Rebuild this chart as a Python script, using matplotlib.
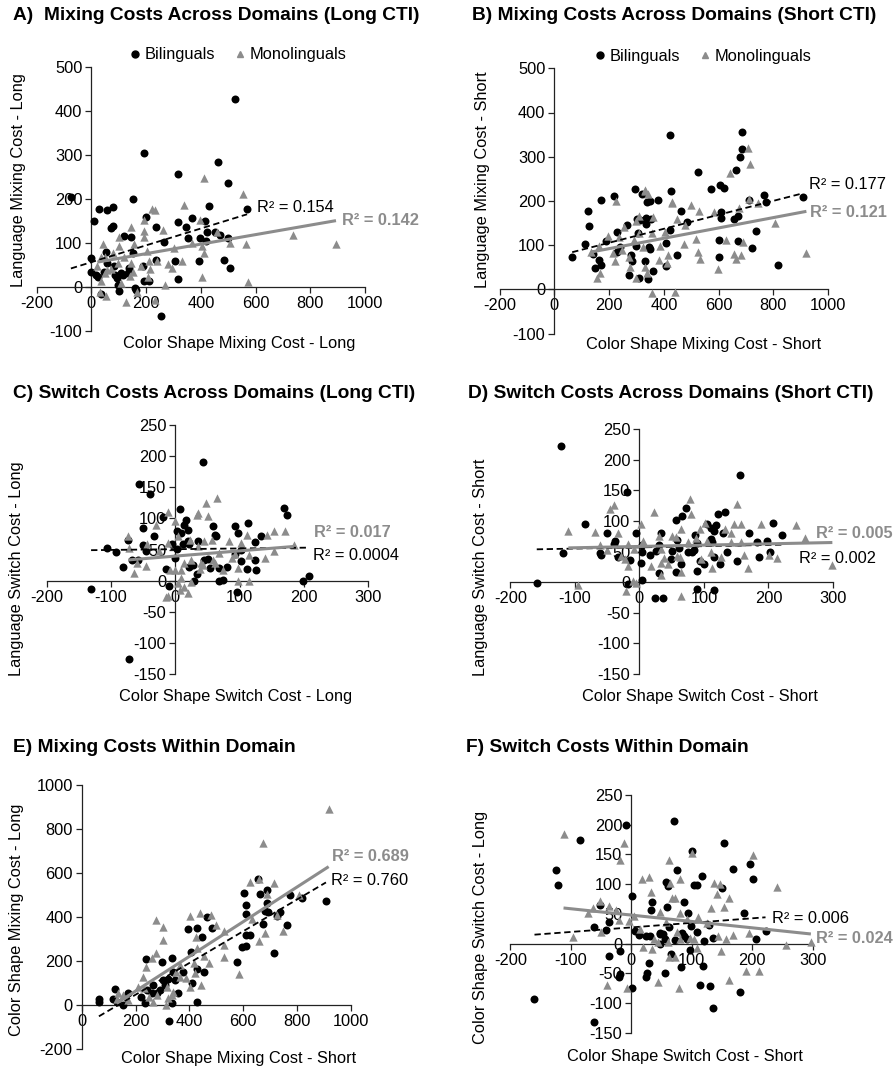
import matplotlib
matplotlib.use("Agg")
import matplotlib.pyplot as plt
from matplotlib.lines import Line2D
import numpy as np

plt.rcParams['font.family'] = ['Liberation Sans', 'DejaVu Sans']
plt.rcParams['axes.unicode_minus'] = False

# ---------------- data ----------------
a_bil_x = [524,193,463,316,501,-75,151,29,56,79,10,431,569,201,366,416,316,344,73,78,235,453,423,471,119,143,354,499,396,419,265,53,151,0,235,484,307,392,188,83,505,137,107,-2,18,24,135,316,194,209,97,101,158,35,254,86,115,46,56,95,163]
a_bil_y = [427,304,283,257,235,205,199,177,174,181,150,184,177,159,157,150,147,137,134,138,137,125,124,119,115,113,110,112,110,105,102,79,77,65,62,62,60,60,48,48,42,42,32,33,26,22,32,17,13,14,5,-10,-3,-15,-67,26,28,35,54,20,-6]
a_mono_x = [412,553,338,222,231,194,143,261,397,192,194,100,44,458,507,565,738,894,412,405,332,279,294,209,241,214,208,406,571,270,156,80,51,34,50,58,30,53,128,231,168,141,153,97,22,36,180,119,70,101,369,301,204,107,146]
a_mono_y = [247,211,187,177,175,153,135,130,152,128,113,114,98,125,99,98,119,97,77,92,60,52,42,60,60,41,23,23,12,4,97,77,68,69,32,39,-11,-21,-34,-30,-12,24,35,54,47,13,47,69,41,92,100,88,81,9,54]

b_bil_x = [65,113,123,127,169,219,149,162,169,140,188,229,266,230,241,272,283,281,295,303,311,306,300,309,320,333,335,339,351,353,379,345,330,349,359,341,423,427,423,409,409,448,464,485,524,572,607,621,609,609,603,602,658,671,664,680,686,687,671,713,723,735,765,775,818,907]
b_bil_y = [72,103,178,144,201,211,49,66,56,80,110,129,145,85,95,32,63,78,226,160,157,127,97,26,215,161,148,197,199,159,202,95,65,91,42,23,348,223,134,104,53,78,178,152,265,228,235,230,174,161,112,73,159,166,271,299,318,355,110,202,93,133,213,198,54,209]
b_mono_x = [706,716,643,225,331,342,430,499,529,585,676,710,745,807,921,689,681,658,663,626,597,526,533,517,473,476,448,431,415,413,406,387,359,308,297,331,253,196,163,168,156,214,223,235,247,278,272,298,330,340,356,442,308,290,358,382,135,324]
b_mono_y = [319,284,262,199,225,216,196,190,177,175,183,204,195,150,81,108,77,80,69,111,47,85,69,113,102,145,159,198,77,59,129,97,163,165,155,222,142,121,97,36,26,81,63,119,90,51,74,25,51,36,-8,-7,127,112,127,66,85,95]

c_bil_x = [43,-57,-39,-19,7,17,13,3,20,9,-51,-33,-73,-107,-93,-51,-46,-58,-68,-82,-131,-72,-15,-10,-1,-5,3,12,20,22,35,27,34,29,44,50,59,61,63,54,68,81,68,74,93,98,113,102,111,96,124,133,124,126,169,174,198,208,93,102,21]
c_bil_y = [190,156,139,103,115,97,90,80,82,76,85,71,66,53,46,57,47,33,33,22,-14,-126,18,-8,36,59,51,59,63,59,63,25,10,0,33,34,87,73,71,21,21,22,0,1,88,77,92,31,19,-19,62,71,33,17,117,105,-1,7,43,49,22]
c_mono_x = [64,48,-12,35,50,-30,-1,-73,-44,-72,-60,-65,-45,-26,-11,4,23,35,45,57,83,102,111,142,154,170,184,153,140,115,92,88,68,59,43,39,25,14,9,0,-9,9,4,13,20,8,-15,-11,25,97,115,98,61,74,33,40]
c_mono_y = [132,124,111,108,104,89,96,71,59,52,28,12,24,48,60,71,65,56,63,65,64,60,73,74,80,80,58,47,36,41,43,37,44,33,25,18,33,28,17,17,17,5,-4,-10,-20,-15,-26,-24,-2,0,0,21,28,17,105,28]

d_bil_x = [-122,-19,156,-85,-119,-159,-61,-60,-50,-40,-38,-33,-15,-5,-18,4,2,4,16,26,30,33,31,24,37,49,50,56,57,66,62,65,59,73,75,82,85,86,90,90,89,94,100,104,111,116,111,113,116,116,119,122,132,130,125,136,151,170,182,186,198,207,221,203,4]
d_bil_y = [222,147,176,96,47,-1,48,45,80,63,67,42,36,80,-3,3,31,49,45,51,61,80,15,-25,-25,38,51,16,101,109,56,29,69,121,50,49,52,78,64,18,-11,35,29,96,88,83,70,65,41,-13,93,111,114,80,30,50,34,80,65,42,67,97,77,49,61]
d_mono_x = [-110,-95,-69,-46,-40,-33,-61,-50,-28,-23,-18,-20,-10,-5,3,-17,-8,5,23,18,30,33,38,33,44,50,56,59,63,64,79,80,75,64,87,94,101,104,111,112,126,132,142,147,151,157,162,169,189,201,213,243,256,299,142,95,157,33,64]
d_mono_y = [84,-4,82,119,127,81,61,53,43,38,27,-14,2,-1,96,63,54,68,114,26,75,54,39,12,29,76,74,43,42,87,136,111,65,-23,73,87,97,67,50,23,41,87,80,95,128,96,45,24,96,45,39,94,73,28,65,38,66,32,16]

e_bil_x = [66,125,115,130,155,172,238,234,242,266,297,304,311,335,341,347,357,337,326,378,394,407,409,428,428,428,446,455,467,484,576,605,611,611,611,624,611,595,657,663,688,688,673,683,694,737,725,762,716,775,820,908,64,279,291,219,322,260]
e_bil_y = [14,74,29,14,0,53,208,11,68,91,194,114,91,215,152,114,56,11,-71,152,345,242,102,348,162,12,311,148,398,352,197,508,455,415,320,320,268,262,571,505,524,465,370,427,424,424,405,364,235,502,488,471,26,53,68,38,120,53]
e_mono_x = [918,674,659,626,716,690,808,634,725,747,680,658,584,529,528,529,499,480,403,425,428,456,472,442,403,421,419,388,366,304,304,276,276,260,238,229,211,233,252,266,312,322,336,341,136,155,171,130,279,316,351,366,440]
e_mono_y = [892,738,571,561,553,505,500,389,409,336,326,292,141,335,273,217,362,409,406,311,258,223,189,91,80,144,189,121,182,356,295,386,235,212,174,129,83,76,38,15,0,30,45,61,53,45,23,29,45,83,152,129,417]

f_bil_x = [71,-8,-85,-125,-121,154,101,76,117,103,109,150,168,197,202,57,61,2,35,88,59,33,93,186,-52,-37,-42,-62,7,13,25,48,52,55,48,63,73,84,88,92,99,109,121,129,135,206,222,-37,-19,30,65,83,97,118,-18,-20,26,24,56,2,114,131,180,135,-160,-61,47,31]
f_bil_y = [207,199,175,124,98,170,155,124,113,99,99,93,126,134,109,104,97,80,70,70,61,56,52,52,65,37,23,28,21,14,13,18,16,8,0,28,6,18,13,7,30,20,4,31,10,7,21,-21,-13,-32,-18,-40,-11,-37,-52,-56,-50,-57,-49,-74,-69,-71,-81,-108,-93,-132,16,12]
f_mono_x = [-112,-12,-18,18,30,33,62,64,80,101,201,241,136,146,141,162,154,132,68,73,-51,-36,-26,-64,-71,-21,-4,4,48,81,111,125,92,58,-50,-97,14,37,44,60,76,97,103,108,143,156,169,194,256,297,20,35,73,149,189,212,161,44,79,-40,-7,62,81]
f_mono_y = [184,169,141,108,112,86,141,102,108,153,149,95,102,100,83,76,61,60,77,76,71,63,56,60,51,40,38,46,53,52,44,35,41,36,20,11,24,7,3,2,20,10,8,-8,12,7,14,17,-3,2,-6,-9,-23,-12,-46,-46,-61,-65,-74,-69,-74,-23,7]

# linear trendlines: (slope, intercept)
a_bil_fit, a_mono_fit = (0.191, 56.3), (0.108, 54.0)
b_bil_fit, b_mono_fit = (0.158, 73.7), (0.117, 68.6)
c_bil_fit, c_mono_fit = (0.012, 50.5), (0.084, 39.4)
d_bil_fit, d_mono_fit = (0.020, 57.0), (0.0215, 58.5)
e_bil_fit, e_mono_fit = (0.721, -97.6), (0.788, -94.5)
f_bil_fit, f_mono_fit = (0.0765, 27.2), (-0.107, 47.9)

r2_bil = ["0.154", "0.177", "0.0004", "0.002", "0.760", "0.006"]
r2_mono = ["0.142", "0.121", "0.017", "0.005", "0.689", "0.024"]

titles = ["A)  Mixing Costs Across Domains (Long CTI)",
          "B) Mixing Costs Across Domains (Short CTI)",
          "C) Switch Costs Across Domains (Long CTI)",
          "D) Switch Costs Across Domains (Short CTI)",
          "E) Mixing Costs Within Domain",
          "F) Switch Costs Within Domain"]
xlabels = ["Color Shape Mixing Cost - Long", "Color Shape Mixing Cost - Short",
           "Color Shape Switch Cost - Long", "Color Shape Switch Cost - Short",
           "Color Shape Mixing Cost - Short", "Color Shape Switch Cost - Short"]
ylabels = ["Language Mixing Cost - Long", "Language Mixing Cost - Short",
           "Language Switch Cost - Long", "Language Switch Cost - Short",
           "Color Shape Mixing Cost - Long", "Color Shape Switch Cost - Long"]

GREY = '#8c8c8c'
W, H = 894, 1070
fig = plt.figure(figsize=(W / 100, H / 100), dpi=100)

def px_axes(x0, x1, ytop, ybot):
    return fig.add_axes([x0 / W, 1 - ybot / H, (x1 - x0) / W, (ybot - ytop) / H])

panels = [
    dict(box=(36.7, 365, 66.7, 331), xlim=(-200, 1000), ylim=(-100, 500), xt=200, yt=100,
         bil=(a_bil_x, a_bil_y), mono=(a_mono_x, a_mono_y), fits=(a_bil_fit, a_mono_fit),
         r2pos=((605, 181), (915, 151)), title=(13, 15), xl=(239, 343), yl=(19, 180), legend=(237, 55)),
    dict(box=(499.7, 828, 68.3, 333.5), xlim=(-200, 1000), ylim=(-100, 500), xt=200, yt=100,
         bil=(b_bil_x, b_bil_y), mono=(b_mono_x, b_mono_y), fits=(b_bil_fit, b_mono_fit),
         r2pos=((932, 238), (935, 174)), title=(472, 15), xl=(704, 344), yl=(482, 180), legend=(702, 56)),
    dict(box=(46.7, 368.3, 425, 674), xlim=(-200, 300), ylim=(-150, 250), xt=100, yt=50,
         bil=(c_bil_x, c_bil_y), mono=(c_mono_x, c_mono_y), fits=(c_bil_fit, c_mono_fit),
         r2pos=((214, 41), (215, 78)), title=(13, 393), xl=(236, 697), yl=(17, 569), legend=None),
    dict(box=(510.3, 833, 429.3, 674), xlim=(-200, 300), ylim=(-150, 250), xt=100, yt=50,
         bil=(d_bil_x, d_bil_y), mono=(d_mono_x, d_mono_y), fits=(d_bil_fit, d_mono_fit),
         r2pos=((247, 38), (274, 80)), title=(468, 393), xl=(700, 697), yl=(480, 567), legend=None),
    dict(box=(81.7, 350.7, 785, 1049), xlim=(0, 1000), ylim=(-200, 1000), xt=200, yt=200,
         bil=(e_bil_x, e_bil_y), mono=(e_mono_x, e_mono_y), fits=(e_bil_fit, e_mono_fit),
         r2pos=((927, 568), (929, 674)), title=(13, 747), xl=(239, 1058), yl=(17, 920), legend=None),
    dict(box=(510.3, 812.7, 795, 1032.7), xlim=(-200, 300), ylim=(-150, 250), xt=100, yt=50,
         bil=(f_bil_x, f_bil_y), mono=(f_mono_x, f_mono_y), fits=(f_bil_fit, f_mono_fit),
         r2pos=((233, 42), (306, 8)), title=(466, 747), xl=(685, 1057), yl=(480, 927), legend=None),
]

TICK_FS = 11.8
LAB_FS = 11.8
for i, p in enumerate(panels):
    ax = px_axes(*p['box'])
    ax.set_xlim(*p['xlim'])
    ax.set_ylim(*p['ylim'])
    ax.set_xticks(np.arange(p['xlim'][0], p['xlim'][1] + 1, p['xt']))
    ax.set_yticks(np.arange(p['ylim'][0], p['ylim'][1] + 1, p['yt']))
    for s in ['top', 'right']:
        ax.spines[s].set_visible(False)
    ax.spines['left'].set_position(('data', 0))
    ax.spines['bottom'].set_position(('data', 0))
    for s in ['left', 'bottom']:
        ax.spines[s].set_linewidth(0.9)
        ax.spines[s].set_color('#222222')
    ax.tick_params(direction='out', length=4.5, width=0.9, labelsize=TICK_FS, color='#222222', pad=2)
    ax.patch.set_visible(False)

    bx, by = p['bil']
    mx, my = p['mono']
    ax.scatter(bx, by, s=33, marker='o', color='black', linewidths=0, zorder=3, clip_on=False)
    ax.scatter(mx, my, s=36, marker='^', color=GREY, linewidths=0, zorder=4, clip_on=False)

    (bs, bi), (ms, mi) = p['fits']
    xb = np.array([min(bx), max(bx)])
    xm = np.array([min(mx), max(mx)])
    ax.plot(xb, bs * xb + bi, color='black', lw=1.3, ls=(0, (3.5, 2)), zorder=5)
    ax.plot(xm, ms * xm + mi, color=GREY, lw=2.2, zorder=5, solid_capstyle='butt')

    (bxp, byp), (mxp, myp) = p['r2pos']
    ax.text(bxp, byp, "R² = " + r2_bil[i], color='black', fontsize=LAB_FS, ha='left', va='center', zorder=6)
    ax.text(mxp, myp, "R² = " + r2_mono[i], color=GREY, fontsize=LAB_FS, fontweight='bold',
            ha='left', va='center', zorder=6)

    tx, ty = p['title']
    fig.text(tx / W, 1 - ty / H, titles[i], fontsize=13.8, fontweight='bold', ha='left', va='center')
    lx, ly = p['xl']
    fig.text(lx / W, 1 - ly / H, xlabels[i], fontsize=LAB_FS, ha='center', va='center')
    yx, yy = p['yl']
    fig.text(yx / W, 1 - yy / H, ylabels[i], fontsize=LAB_FS, ha='center', va='center', rotation=90)

    if p['legend'] is not None:
        handles = [Line2D([], [], ls='none', marker='o', color='black', markersize=5),
                   Line2D([], [], ls='none', marker='^', color=GREY, markersize=5)]
        lgx, lgy = p['legend']
        fig.legend(handles, ['Bilinguals', 'Monolinguals'], loc='center',
                   bbox_to_anchor=(lgx / W, 1 - lgy / H), ncol=2, frameon=False,
                   fontsize=LAB_FS, handletextpad=0.1, columnspacing=1.0, handlelength=1.0,
                   borderpad=0, borderaxespad=0)

fig.savefig('out.png', dpi=100)
